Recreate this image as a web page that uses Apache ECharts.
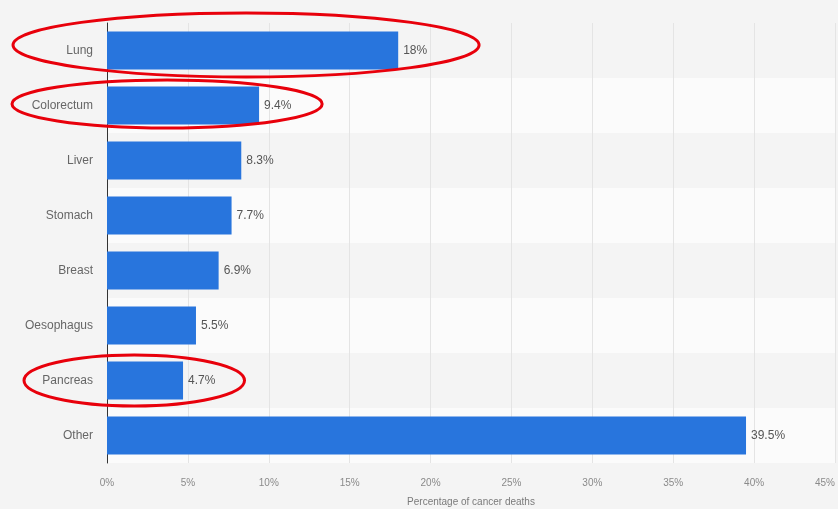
<!DOCTYPE html>
<html><head><meta charset="utf-8">
<script src="https://cdn.jsdelivr.net/npm/echarts@6/dist/echarts.min.js"></script>
<style>html,body{margin:0;padding:0;background:#f4f4f4;}#c{width:838px;height:509px;}</style>
</head><body><div id="c"></div>
<script>
const categories = ['Lung','Colorectum','Liver','Stomach','Breast','Oesophagus','Pancreas','Other'];
const values = [18, 9.4, 8.3, 7.7, 6.9, 5.5, 4.7, 39.5];
const axisTicks = [0,5,10,15,20,25,30,35,40,45];
const highlighted = ['Lung','Colorectum','Pancreas'];

const chart = echarts.init(document.getElementById('c'));
const F = 'Liberation Sans, Arial, sans-serif';
chart.setOption({
  backgroundColor:'#f4f4f4',
  animation:false,
  grid:{left:107,right:3,top:23,bottom:46,outerBoundsMode:'none',containLabel:false},
  xAxis:{type:'value',min:axisTicks[0],max:axisTicks[axisTicks.length-1],interval:5,
    axisLabel:{formatter:'{value}%',color:'#8a8a8a',fontSize:10,fontFamily:F,margin:15,alignMaxLabel:'right'},
    axisLine:{show:false},axisTick:{show:false},
    splitLine:{lineStyle:{color:'#e4e4e4',width:1}},
    name:'Percentage of cancer deaths',nameLocation:'middle',nameGap:34,
    nameTextStyle:{color:'#7a7a7a',fontSize:10,fontFamily:F}},
  yAxis:{type:'category',data:categories,inverse:true,
    axisLine:{lineStyle:{color:'#333',width:1}},axisTick:{show:false},
    axisLabel:{color:'#666',fontSize:12,fontFamily:F,margin:14},
    splitArea:{show:true,areaStyle:{color:['rgba(244,244,244,1)','rgba(251,251,251,1)']}}},
  series:[{type:'bar',data:values,barWidth:38,
    itemStyle:{color:'#2875dd'},
    label:{show:true,position:'right',distance:5,formatter:p=>p.value+'%',color:'#555',fontSize:12,fontFamily:F}}]
});
// annotation ellipses: [left offset px from axis, right edge in axis value, dy, ry]
const spec = {Lung:[-94,23,-5.5,32], Colorectum:[-95,13.3,-1.5,24], Pancreas:[-83,8.5,0,25.5]};
const els = [];
highlighted.forEach(n=>{
  const s = spec[n];
  const y = chart.convertToPixel({yAxisIndex:0}, n);
  const xL = chart.convertToPixel({xAxisIndex:0}, 0) + s[0];
  const xR = chart.convertToPixel({xAxisIndex:0}, s[1]);
  els.push({type:'ellipse',shape:{cx:(xL+xR)/2,cy:y+s[2],rx:(xR-xL)/2,ry:s[3]},
    style:{fill:'none',stroke:'#e8000b',lineWidth:3},z:100});
});
chart.setOption({graphic:els});
</script></body></html>
